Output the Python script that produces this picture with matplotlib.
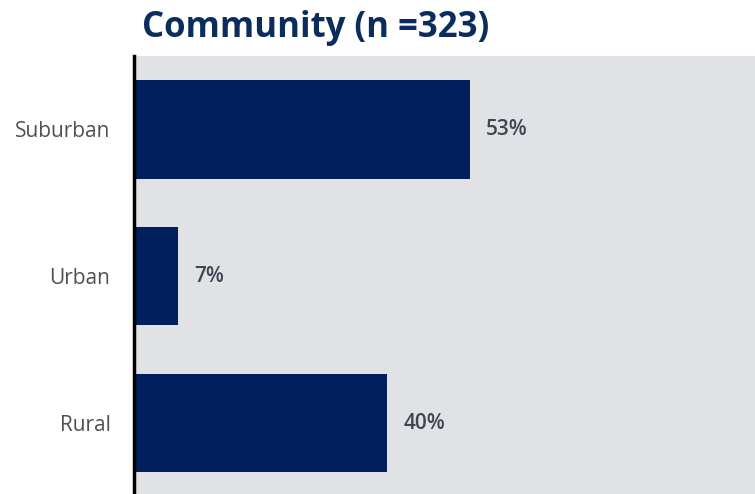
import matplotlib
matplotlib.use('Agg')
import matplotlib.pyplot as plt

categories = ['Rural', 'Urban', 'Suburban']
values = [40, 7, 53]

BAR_COLOR = '#001f5c'
BG_COLOR = '#e1e2e6'
TEXT_COLOR = '#404552'

plt.rcParams['font.family'] = ['Open Sans', 'DejaVu Sans']

fig = plt.figure(figsize=(7.55, 4.94), dpi=100)
ax = fig.add_axes([134 / 755, 0, 621 / 755, 438 / 494])
ax.set_facecolor(BG_COLOR)

y = range(len(categories))
ax.barh(y, values, height=0.667, color=BAR_COLOR)
ax.set_yticks(list(y))
ax.set_yticklabels(categories, fontsize=15, color='#505050')
ax.tick_params(axis='y', length=0, pad=17)
ax.set_xticks([])
ax.set_xlim(0, 98)
ax.set_ylim(-0.48, 2.5)

for i, v in enumerate(values):
    ax.text(v + 2.5, i, f'{v}%', va='center', ha='left', fontsize=15,
            fontweight='semibold', color=TEXT_COLOR)

for s in ['top', 'right', 'bottom']:
    ax.spines[s].set_visible(False)
ax.spines['left'].set_color('black')
ax.spines['left'].set_linewidth(2.5)

fig.text(316 / 755, 1 - 28 / 494, 'Community (n =323)', ha='center', va='center',
         fontsize=25, fontweight='bold', color='#0b2d5e')

fig.savefig('out.png', dpi=100)
